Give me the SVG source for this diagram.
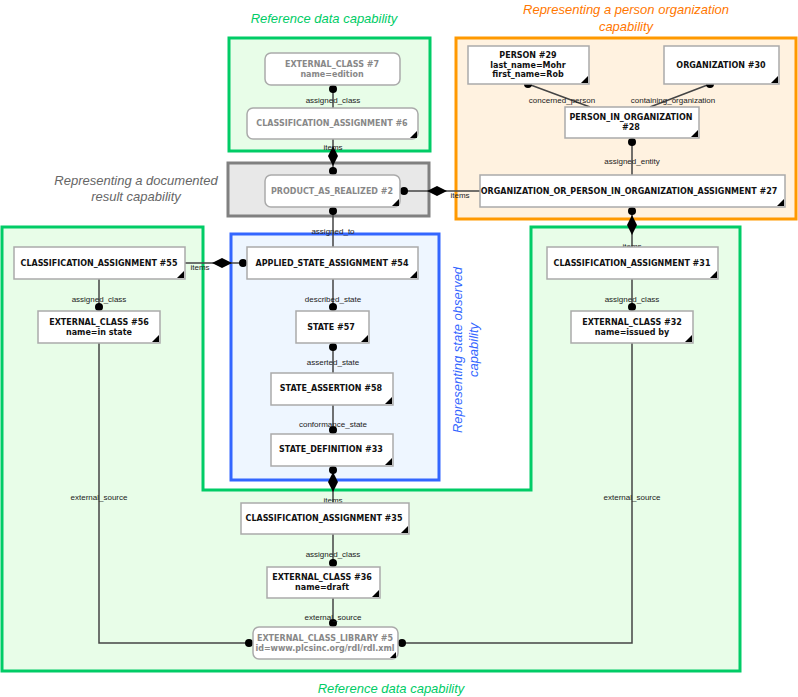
<svg xmlns="http://www.w3.org/2000/svg" width="798" height="697" viewBox="0 0 798 697">
<style>
.n{fill:#fff;stroke:#aaa;stroke-width:1.5}
.t{font-family:Verdana,"DejaVu Sans",sans-serif;font-size:8px;font-weight:bold;text-anchor:middle;fill:#111}
.g{fill:#888}
.l{font-family:"Liberation Sans",Arial,sans-serif;font-size:8px;text-anchor:middle;fill:#222}
.c{stroke:#444;stroke-width:1.5;fill:none}
.cap{font-family:"Liberation Sans",Arial,sans-serif;font-size:13px;font-style:italic;text-anchor:middle}
.tri{fill:#000}
</style>
<defs>
<path id="dm" d="M0,-10 L5,0 L0,10 L-5,0Z" fill="#000"/>
<path id="dmh" d="M-10,0 L0,-5 L10,0 L0,5Z" fill="#000"/>
</defs>
<g id="groups">
<path d="M2,227 H203 V490 H531 V227 H740 V671 H2Z" fill="#e8fde8" stroke="#00cc66" stroke-width="3"/>
<rect x="229" y="38" width="201" height="113" fill="#e8fde8" stroke="#00cc66" stroke-width="3"/>
<rect x="228" y="163" width="201" height="53" fill="#e8e8e8" stroke="#808080" stroke-width="3"/>
<rect x="456" y="38" width="340" height="181" fill="#fff2e0" stroke="#ff9900" stroke-width="3"/>
<rect x="231" y="234" width="208" height="246" fill="#eef6ff" stroke="#3366ff" stroke-width="3"/>
<text class="cap" x="324" y="23" fill="#00cc66">Reference data capability</text>
<text class="cap" x="626" y="14" fill="#ff7700">Representing a person organization</text>
<text class="cap" x="626" y="31" fill="#ff7700">capability</text>
<text class="cap" x="136" y="185" fill="#666">Representing a documented</text>
<text class="cap" x="136" y="201" fill="#666">result capability</text>
<text class="cap" x="391" y="693" fill="#00cc66">Reference data capability</text>
<text class="cap" transform="translate(462,350) rotate(-90)" fill="#3366ff">Representing state observed</text>
<text class="cap" transform="translate(478,350) rotate(-90)" fill="#3366ff">capability</text>
</g>
<g id="connectors">
<path class="c" d="M333,85 V108 M333,139 V175 M333,207 V247 M333,279 V311 M333,343 V373 M333,405 V434 M333,466 V503 M333,534 V567 M333,598 V627"/>
<path class="c" d="M400,191 H480 M185,263 H247 M632,207 V247 M632,279 V311 M99,279 V311"/>
<path class="c" d="M99,343 V643 H253 M398,643 H632 V343"/>
<path class="c" d="M528,84 L590,107 M710,84 L650,107 M632,138 V175"/>
<g fill="#000">
<circle cx="333" cy="89" r="4"/><use href="#dm" x="333" y="156"/><circle cx="333" cy="171" r="4"/><circle cx="333" cy="211" r="4"/>
<circle cx="404" cy="191" r="4"/><use href="#dmh" x="437" y="191"/>
<circle cx="632" cy="211" r="4"/><use href="#dm" x="632" y="225"/>
<use href="#dmh" x="222" y="263"/><circle cx="243" cy="263" r="4"/>
<circle cx="99" cy="307" r="4"/><circle cx="632" cy="307" r="4"/>
<circle cx="333" cy="307" r="4"/><circle cx="333" cy="347" r="4"/><circle cx="333" cy="430" r="4"/>
<circle cx="333" cy="470" r="4"/><use href="#dm" x="333" y="482"/>
<circle cx="333" cy="563" r="4"/><circle cx="333" cy="623" r="4"/>
<circle cx="249" cy="643" r="4"/><circle cx="402" cy="643" r="4"/>
<circle cx="528" cy="84" r="4"/><circle cx="710" cy="84" r="4"/><circle cx="632" cy="142" r="4"/>
</g>
<text class="l" x="333" y="103">assigned_class</text>
<text class="l" x="333" y="150">items</text>
<text class="l" x="460" y="198">items</text>
<text class="l" x="333" y="234">assigned_to</text>
<text class="l" x="200" y="270">items</text>
<text class="l" x="632" y="249">items</text>
<text class="l" x="99" y="302">assigned_class</text>
<text class="l" x="632" y="302">assigned_class</text>
<text class="l" x="333" y="302">described_state</text>
<text class="l" x="333" y="365">asserted_state</text>
<text class="l" x="333" y="427">conformance_state</text>
<text class="l" x="99" y="500">external_source</text>
<text class="l" x="632" y="500">external_source</text>
<text class="l" x="333" y="503">items</text>
<text class="l" x="333" y="557">assigned_class</text>
<text class="l" x="333" y="620">external_source</text>
<text class="l" x="562" y="103">concerned_person</text>
<text class="l" x="673" y="103">containing_organization</text>
<text class="l" x="632" y="164">assigned_entity</text>
</g>
<g id="n7"><rect class="n" x="265" y="53" width="135" height="32" rx="6"/><text class="t g" x="332" y="67">EXTERNAL_CLASS #7</text><text class="t g" x="332" y="77">name=edition</text></g>
<g id="n6"><rect class="n" x="247" y="108" width="171" height="31" rx="6"/><text class="t g" x="332" y="126">CLASSIFICATION_ASSIGNMENT #6</text><path class="tri" d="M417,138 l-7,0 l7,-7z"/></g>
<g id="n2"><rect class="n" x="265" y="175" width="135" height="32" rx="6"/><text class="t g" x="332" y="194">PRODUCT_AS_REALIZED #2</text><path class="tri" d="M399,206 l-7,0 l7,-7z"/></g>
<g id="n29"><rect class="n" x="468" y="46" width="121" height="38"/><text class="t" x="528" y="58">PERSON #29</text><text class="t" x="528" y="68">last_name=Mohr</text><text class="t" x="528" y="77">first_name=Rob</text><path class="tri" d="M588,83 l-7,0 l7,-7z"/></g>
<g id="n30"><rect class="n" x="664" y="46" width="115" height="38"/><text class="t" x="721" y="68">ORGANIZATION #30</text><path class="tri" d="M778,83 l-7,0 l7,-7z"/></g>
<g id="n28"><rect class="n" x="565" y="107" width="134" height="31"/><text class="t" x="631" y="120">PERSON_IN_ORGANIZATION</text><text class="t" x="631" y="130">#28</text><path class="tri" d="M698,137 l-7,0 l7,-7z"/></g>
<g id="n27"><rect class="n" x="480" y="175" width="305" height="32"/><text class="t" x="629" y="194">ORGANIZATION_OR_PERSON_IN_ORGANIZATION_ASSIGNMENT #27</text><path class="tri" d="M784,206 l-7,0 l7,-7z"/></g>
<g id="n55"><rect class="n" x="14" y="247" width="171" height="32"/><text class="t" x="99" y="266">CLASSIFICATION_ASSIGNMENT #55</text><path class="tri" d="M184,278 l-7,0 l7,-7z"/></g>
<g id="n54"><rect class="n" x="247" y="247" width="171" height="32"/><text class="t" x="332" y="266">APPLIED_STATE_ASSIGNMENT #54</text><path class="tri" d="M417,278 l-7,0 l7,-7z"/></g>
<g id="n31"><rect class="n" x="547" y="247" width="171" height="32"/><text class="t" x="632" y="266">CLASSIFICATION_ASSIGNMENT #31</text><path class="tri" d="M717,278 l-7,0 l7,-7z"/></g>
<g id="n56"><rect class="n" x="38" y="311" width="122" height="32"/><text class="t" x="99" y="325">EXTERNAL_CLASS #56</text><text class="t" x="99" y="335">name=in state</text><path class="tri" d="M159,342 l-7,0 l7,-7z"/></g>
<g id="n57"><rect class="n" x="296" y="311" width="73" height="32"/><text class="t" x="331" y="330">STATE #57</text><path class="tri" d="M368,342 l-7,0 l7,-7z"/></g>
<g id="n32"><rect class="n" x="571" y="311" width="122" height="32"/><text class="t" x="632" y="325">EXTERNAL_CLASS #32</text><text class="t" x="632" y="335">name=issued by</text><path class="tri" d="M692,342 l-7,0 l7,-7z"/></g>
<g id="n58"><rect class="n" x="271" y="373" width="122" height="32"/><text class="t" x="331" y="391">STATE_ASSERTION #58</text><path class="tri" d="M392,404 l-7,0 l7,-7z"/></g>
<g id="n33"><rect class="n" x="271" y="434" width="122" height="32"/><text class="t" x="331" y="452">STATE_DEFINITION #33</text><path class="tri" d="M392,465 l-7,0 l7,-7z"/></g>
<g id="n35"><rect class="n" x="241" y="503" width="168" height="31"/><text class="t" x="324" y="521">CLASSIFICATION_ASSIGNMENT #35</text><path class="tri" d="M408,533 l-7,0 l7,-7z"/></g>
<g id="n36"><rect class="n" x="267" y="567" width="113" height="31"/><text class="t" x="322" y="580">EXTERNAL_CLASS #36</text><text class="t" x="322" y="590">name=draft</text><path class="tri" d="M379,597 l-7,0 l7,-7z"/></g>
<g id="n5"><rect class="n" x="253" y="627" width="145" height="32" rx="6"/><text class="t g" x="325" y="641">EXTERNAL_CLASS_LIBRARY #5</text><text class="t g" x="325" y="651">id=www.plcsinc.org/rdl/rdl.xml</text><path class="tri" d="M396,658 l-6,0 l6,-6z"/></g>
</svg>
